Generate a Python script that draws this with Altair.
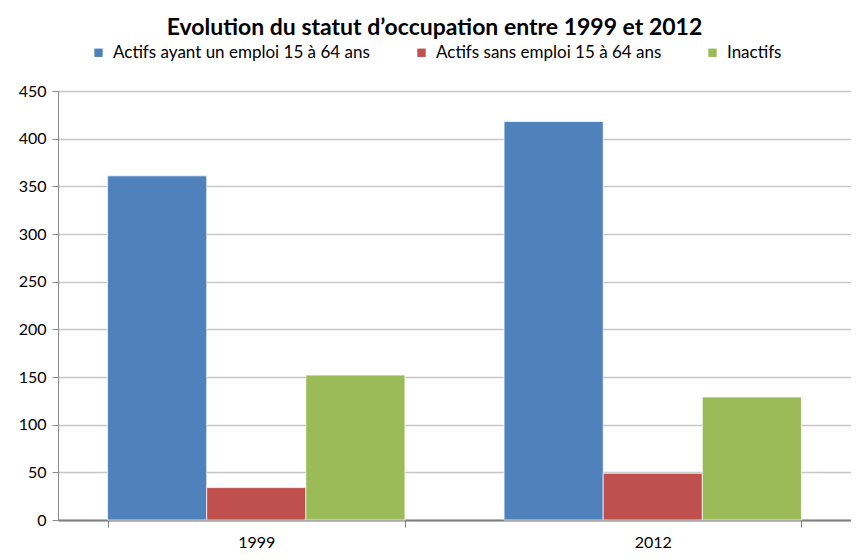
import altair as alt
import pandas as pd

years = ["1999", "2012"]
series = ["Actifs ayant un emploi 15  à 64 ans", "Actifs sans emploi 15  à 64 ans", "Inactifs"]
values_1999 = [361, 34, 152]
values_2012 = [418, 49, 129]
colors = ["#4F81BD", "#C0504D", "#9BBB59"]
y_ticks = [0, 50, 100, 150, 200, 250, 300, 350, 400, 450]
title_text = "Evolution du statut d\u2019occupation entre 1999 et 2012"

rows = []
for year, vals in zip(years, [values_1999, values_2012]):
    for s, v in zip(series, vals):
        rows.append({"annee": year, "statut": s, "valeur": v})
df = pd.DataFrame(rows)

FONT = "Lato"

chart = alt.Chart(df).mark_bar(stroke="white", strokeWidth=1, strokeOpacity=0.7).encode(
    x=alt.X("annee:N", sort=years, title=None,
            scale=alt.Scale(paddingInner=0.25, paddingOuter=0.125),
            axis=alt.Axis(labelAngle=0, tickBand="extent", domainColor="#7f7f7f", domainWidth=2,
                          tickColor="#7f7f7f", tickSize=7, tickWidth=1, labelPadding=7,
                          labelFontSize=16, labelColor="#000000", labelFont=FONT, grid=False)),
    xOffset=alt.XOffset("statut:N", sort=series, scale=alt.Scale(paddingInner=0, paddingOuter=0)),
    y=alt.Y("valeur:Q", title=None, scale=alt.Scale(domain=[0, 450], nice=False),
            axis=alt.Axis(values=y_ticks, domainColor="#8a8a8a", domainWidth=1, tickColor="#8a8a8a",
                          tickSize=6, labelPadding=6, labelFontSize=16, labelColor="#000000",
                          labelFont=FONT, gridColor="#c6c6c6", gridWidth=1.5)),
    color=alt.Color("statut:N", scale=alt.Scale(domain=series, range=colors),
                    legend=alt.Legend(title=None, orient="none", legendX=32, legendY=-47,
                                      direction="horizontal", columns=3, columnPadding=38,
                                      symbolType="square", symbolSize=70, symbolStrokeWidth=0,
                                      labelFontSize=17, labelFont=FONT, labelColor="#000000",
                                      labelLimit=400, symbolOffset=0, labelOffset=6)),
).properties(
    width=793, height=429,
    title=alt.TitleParams(title_text, fontSize=23, font=FONT, fontWeight="bold", color="#000000",
                          anchor="middle", offset=4, dx=-20),
    padding={"left": 50, "top": 83, "right": 0, "bottom": 32},
    autosize=alt.AutoSizeParams(type="none"),
).configure_view(stroke=None).configure(background="white")

chart.save("out.html", embed_options={"renderer": "svg", "actions": False})
